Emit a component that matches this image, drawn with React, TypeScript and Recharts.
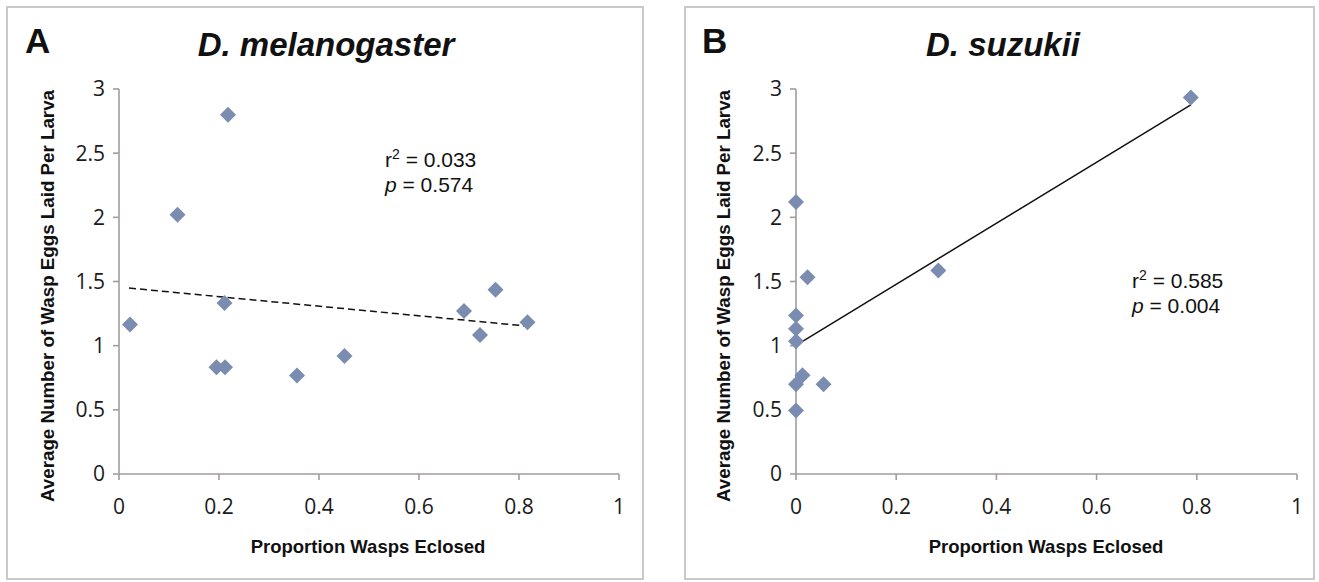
import React from "react";
import { ScatterChart, Scatter, XAxis, YAxis, ReferenceLine } from "recharts";

// Panel A: D. melanogaster
const melX = [0.022, 0.117, 0.218, 0.195, 0.212, 0.211, 0.356, 0.451, 0.69, 0.722, 0.753, 0.817];
const melY = [1.165, 2.02, 2.8, 0.832, 0.832, 1.333, 0.768, 0.919, 1.27, 1.084, 1.435, 1.183];
const melTrendX = [0.02, 0.82];
const melTrendY = [1.449, 1.151];

// Panel B: D. suzukii
const suzX = [0.788, 0, 0.023, 0.284, 0, 0, 0, 0.013, 0, 0.055, 0];
const suzY = [2.933, 2.12, 1.534, 1.586, 1.235, 1.131, 1.035, 0.77, 0.7, 0.7, 0.495];
const suzTrendX = [0, 0.788];
const suzTrendY = [1.003, 2.876];

const xTicks = [0, 0.2, 0.4, 0.6, 0.8, 1];
const yTicks = [0, 0.5, 1, 1.5, 2, 2.5, 3];

const titles = ["D. melanogaster", "D. suzukii"];
const letters = ["A", "B"];
const stats = [
  { r2: "0.033", p: "0.574" },
  { r2: "0.585", p: "0.004" },
];
const xTitle = "Proportion Wasps Eclosed";
const yTitle = "Average Number of Wasp Eggs Laid Per Larva";

const AXIS = "#a29d9d";
const MARK = "#7a8db0";
const TICKFONT = "'Open Sans', sans-serif";
const ARIAL = "'Liberation Sans', Arial, sans-serif";

const Diamond = (props: any) => {
  const { cx, cy } = props;
  if (cx == null || cy == null) return null;
  const r = 8;
  return (
    <polygon
      points={`${cx},${cy - r} ${cx + r},${cy} ${cx},${cy + r} ${cx - r},${cy}`}
      fill={MARK}
    />
  );
};

const toPts = (xs: number[], ys: number[]) => xs.map((x, i) => ({ x, y: ys[i] }));

function Panel(props: {
  left: number;
  width: number;
  yAxisWidth: number;
  rightMargin: number;
  data: { x: number; y: number }[];
  trend: { x: number; y: number }[];
  dashed: boolean;
}) {
  const { left, width, yAxisWidth, rightMargin, data, trend, dashed } = props;
  return (
    <div style={{ position: "absolute", left, top: 0 }}>
      <ScatterChart
        width={width}
        height={582}
        margin={{ top: 89, right: rightMargin, left: 0, bottom: 78 }}
      >
        <XAxis
          type="number"
          dataKey="x"
          domain={[0, 1]}
          ticks={xTicks}
          interval={0}
          height={30}
          stroke={AXIS}
          strokeWidth={1.6}
          tickSize={6}
          tickMargin={19}
          tick={{ fill: "#1a1a1a", fontSize: 21, fontFamily: TICKFONT }}
        />
        <YAxis
          type="number"
          dataKey="y"
          domain={[0, 3]}
          ticks={yTicks}
          interval={0}
          width={yAxisWidth}
          stroke={AXIS}
          strokeWidth={1.6}
          tickSize={6}
          tickMargin={8}
          tick={{ fill: "#1a1a1a", fontSize: 21, fontFamily: TICKFONT }}
        />
        <ReferenceLine
          segment={trend}
          stroke="#111"
          strokeWidth={1.5}
          strokeDasharray={dashed ? "7 4" : undefined}
        />
        <Scatter data={data} shape={<Diamond />} isAnimationActive={false} />
      </ScatterChart>
    </div>
  );
}

export default function App() {
  const panels = [
    { letterX: 25, titleX: 326, yTitleX: 54, xTitleX: 368, statX: 385, statY: 167 },
    { letterX: 702, titleX: 1003, yTitleX: 730, xTitleX: 1046, statX: 1132, statY: 288 },
  ];
  return (
    <div style={{ position: "absolute", left: 0, top: 0, width: 1319, height: 582, background: "#fff" }}>
      <Panel
        left={0}
        width={660}
        yAxisWidth={119}
        rightMargin={41}
        data={toPts(melX, melY)}
        trend={toPts(melTrendX, melTrendY)}
        dashed
      />
      <Panel
        left={660}
        width={659}
        yAxisWidth={136}
        rightMargin={22}
        data={toPts(suzX, suzY)}
        trend={toPts(suzTrendX, suzTrendY)}
        dashed={false}
      />
      <svg
        width={1319}
        height={582}
        style={{ position: "absolute", left: 0, top: 0, pointerEvents: "none" }}
      >
        <rect x={7} y={7} width={636} height={572} fill="none" stroke="#ccc8c8" strokeWidth={2} />
        <rect x={685} y={7} width={629} height={572} fill="none" stroke="#ccc8c8" strokeWidth={2} />
        {panels.map((p, i) => (
          <g key={i}>
            <text x={p.letterX} y={53} fontFamily={ARIAL} fontWeight="bold" fontSize={35} fill="#111">
              {letters[i]}
            </text>
            <text
              x={p.titleX}
              y={56}
              textAnchor="middle"
              fontFamily={ARIAL}
              fontWeight="bold"
              fontStyle="italic"
              fontSize={33}
              fill="#111"
            >
              {titles[i]}
            </text>
            <text
              x={p.yTitleX}
              y={296}
              transform={`rotate(-90 ${p.yTitleX} 296)`}
              textAnchor="middle"
              fontFamily={ARIAL}
              fontWeight="bold"
              fontSize={19}
              textLength={412}
              lengthAdjust="spacingAndGlyphs"
              fill="#111"
            >
              {yTitle}
            </text>
            <text
              x={p.xTitleX}
              y={553}
              textAnchor="middle"
              fontFamily={ARIAL}
              fontWeight="bold"
              fontSize={18.5}
              fill="#111"
            >
              {xTitle}
            </text>
            <text x={p.statX} y={p.statY} fontFamily={ARIAL} fontSize={21} fill="#111">
              <tspan>r</tspan>
              <tspan fontSize={14} dy={-8}>2</tspan>
              <tspan dy={8}>{` = ${stats[i].r2}`}</tspan>
            </text>
            <text x={p.statX} y={p.statY + 25} fontFamily={ARIAL} fontSize={21} fill="#111">
              <tspan fontStyle="italic">p</tspan>
              <tspan>{` = ${stats[i].p}`}</tspan>
            </text>
          </g>
        ))}
      </svg>
    </div>
  );
}
